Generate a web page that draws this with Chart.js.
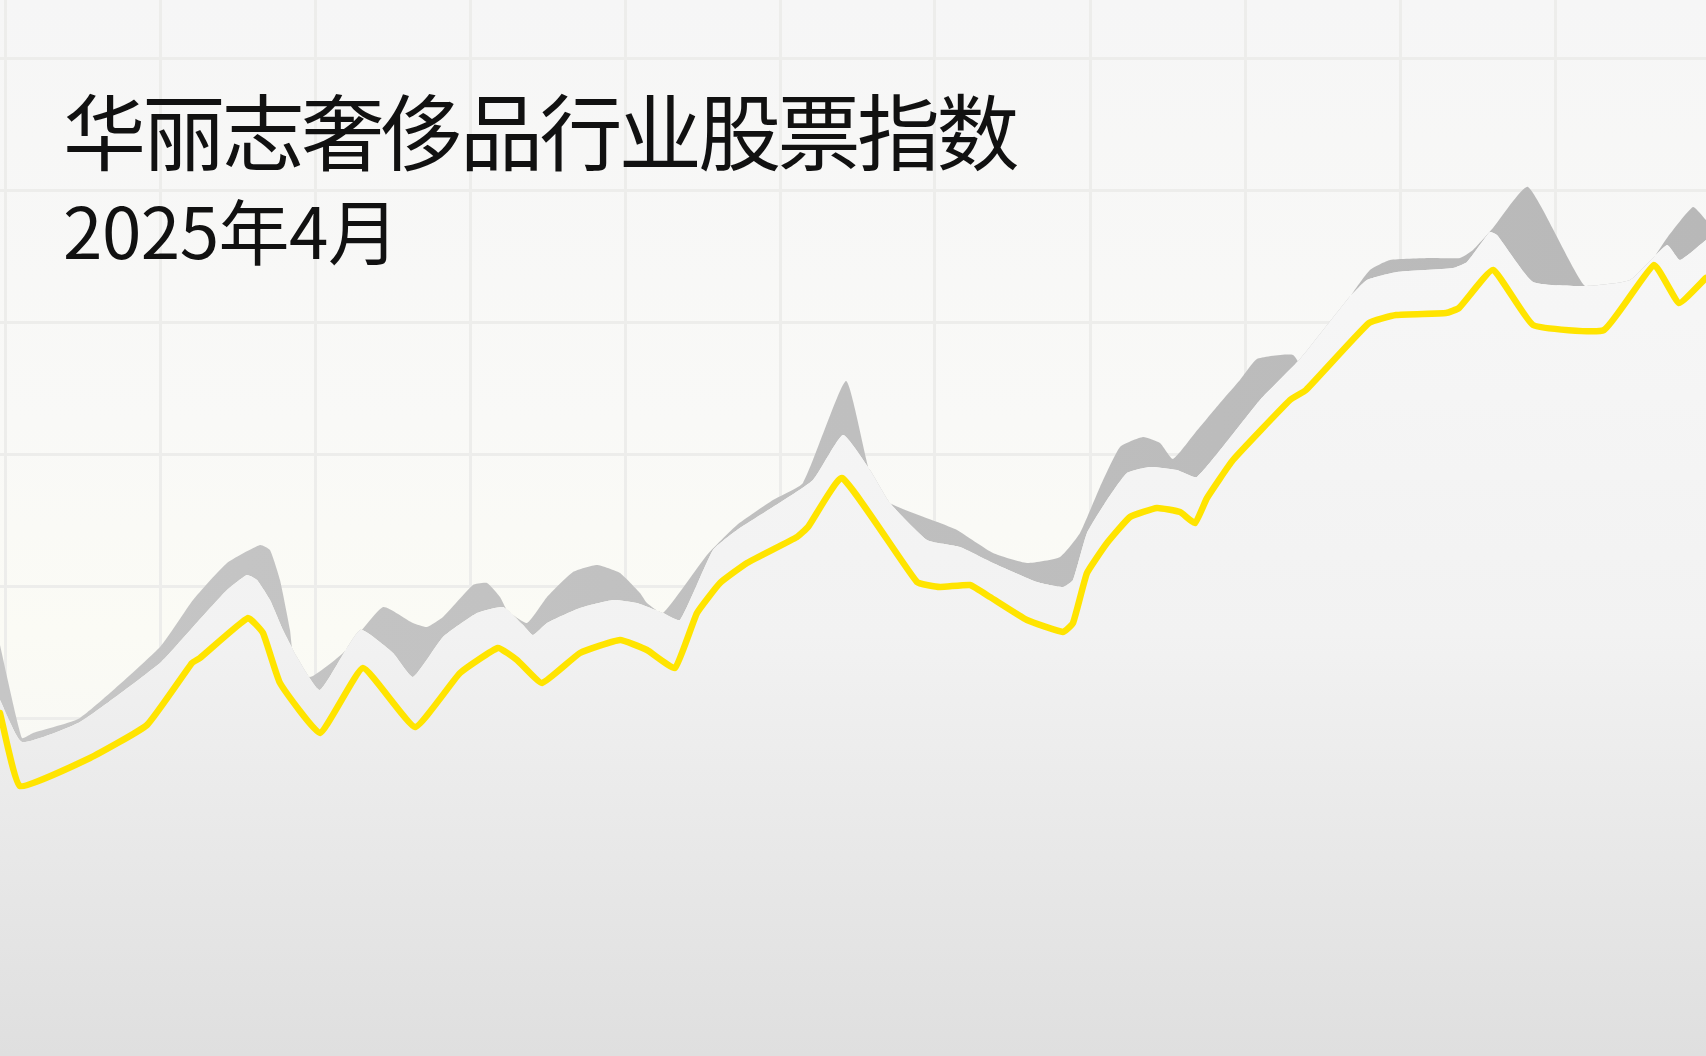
<!DOCTYPE html>
<html>
<head>
<meta charset="utf-8">
<script src="https://cdn.jsdelivr.net/npm/chart.js@4/dist/chart.umd.min.js"></script>
<style>
    html, body {
        margin: 0;
        padding: 0;
        width: 1706px;
        height: 1056px;
        overflow: hidden;
        background: linear-gradient(to bottom, #f6f6f6 0%, #f9f9f7 40%, #fbfbf5 60%, #f3f3f3 100%);
    }
    #wrap { position: relative; width: 1706px; height: 1056px; }
    canvas { position: absolute; left: 0; top: 0; }
    .title {
        position: absolute;
        left: 63px;
        font-family: "Noto Sans CJK SC", "Noto Sans", sans-serif;
        color: #111;
        line-height: 1;
        white-space: nowrap;
    }
    #t1 { top: 87px; font-size: 83px; letter-spacing: -3.6px; }
    #t2 { top: 193px; font-size: 71px; letter-spacing: -0.5px; }
</style>
</head>
<body>
<div id="wrap">
    <canvas id="stock" width="1706" height="1056"></canvas>
    <div class="title" id="t1">华丽志奢侈品行业股票指数</div>
    <div class="title" id="t2">2025年4月</div>
</div>
<script>
// index line (yellow)
const indexX = [0, 20, 90, 147, 192, 200, 248, 263, 280, 320, 363, 415, 460, 498, 517, 542, 580, 620, 647, 675,
    697, 720, 747, 797, 808, 842, 917, 940, 970, 990, 1027, 1063, 1073, 1087, 1107, 1130, 1157, 1180, 1195, 1207,
    1233, 1290, 1306, 1369, 1396, 1446, 1459, 1493, 1533, 1604, 1654, 1679, 1706];
const indexY = [343, 270, 298, 331, 393, 398, 438, 423, 373, 323, 388, 329, 383, 408, 396, 373, 403, 416, 406, 388,
    443, 473, 493, 519, 529, 578, 474, 469, 471, 459, 436, 424, 433, 483, 513, 539, 548, 544, 533, 558,
    596, 656, 666, 733, 741, 743, 748, 786, 731, 726, 791, 753, 778];

// light ribbon top edge
const bandX = [0, 22, 80, 160, 193, 227, 247, 257, 270, 283, 297, 320, 360, 393, 413, 443, 477, 503, 523, 533,
    547, 580, 613, 637, 663, 680, 713, 737, 773, 813, 843, 870, 890, 927, 960, 993, 1037, 1063, 1073, 1087,
    1107, 1127, 1150, 1177, 1197, 1260, 1300, 1347, 1367, 1397, 1453, 1467, 1490, 1497, 1533, 1585, 1630, 1667, 1680, 1706];
const bandY = [356, 314, 334, 393, 429, 466, 481, 476, 456, 426, 399, 366, 426, 403, 379, 419, 443, 449, 431, 421,
    433, 448, 456, 453, 443, 436, 506, 526, 549, 576, 621, 586, 553, 516, 509, 493, 474, 469, 476, 523,
    556, 583, 589, 586, 579, 656, 697, 756, 776, 784, 788, 794, 824, 821, 774, 770, 776, 811, 796, 816];

// grey shadow top edge
const shadowX = [0, 22, 33, 80, 160, 193, 227, 260, 270, 280, 290, 293, 310, 343, 383, 413, 427, 443, 473, 487,
    500, 507, 527, 547, 573, 597, 620, 640, 647, 663, 707, 737, 773, 803, 846, 870, 890, 940, 957, 993,
    1027, 1060, 1080, 1100, 1120, 1143, 1160, 1173, 1195, 1220, 1240, 1257, 1293, 1310, 1340, 1350, 1370, 1390, 1430, 1460,
    1473, 1493, 1528, 1585, 1630, 1667, 1693, 1706];
const shadowY = [411, 318, 323, 338, 409, 456, 493, 511, 506, 476, 426, 403, 379, 403, 449, 433, 429, 439, 471, 473,
    459, 446, 433, 459, 484, 491, 483, 463, 453, 443, 501, 531, 556, 573, 675, 583, 553, 533, 526, 503,
    493, 499, 523, 569, 609, 619, 613, 597, 623, 653, 676, 697, 701, 676, 736, 759, 786, 796, 798, 798,
    806, 828, 869, 770, 766, 818, 849, 836];

function toPoints(xs, ys) {
    return xs.map(function (x, i) { return { x: x, y: ys[i] }; });
}

function bandFill(context) {
    var chart = context.chart;
    var area = chart.chartArea;
    if (!area) return '#f2f2f2';
    var g = chart.ctx.createLinearGradient(0, area.top, 0, area.bottom);
    g.addColorStop(0, '#f8f8f8');
    g.addColorStop(0.3, '#f6f6f6');
    g.addColorStop(0.6, '#f2f2f2');
    g.addColorStop(1, '#dfdfdf');
    return g;
}

function gridTicks(step) {
    return function (axis) {
        var t = [];
        for (var v = 0; v <= axis.max; v += step) t.push({ value: v });
        axis.ticks = t;
    };
}

var ctx = document.getElementById('stock').getContext('2d');
var shadowColor = ctx.createLinearGradient(0, 0, 1706, 0);
shadowColor.addColorStop(0, '#c6c6c6');
shadowColor.addColorStop(1, '#b8b8b8');

var stockChart = new Chart(ctx, {
    type: 'line',
    data: {
        datasets: [{
            label: 'index',
            data: toPoints(indexX, indexY),
            borderColor: '#ffe400',
            borderWidth: 6.5,
            tension: 0.12,
            borderJoinStyle: 'round',
            borderCapStyle: 'round',
            pointRadius: 0,
            fill: false
        }, {
            label: 'shadow',
            data: toPoints(shadowX, shadowY),
            borderWidth: 0,
            borderColor: 'rgba(0,0,0,0)',
            tension: 0.15,
            pointRadius: 0,
            fill: { target: 2, above: shadowColor, below: 'rgba(0,0,0,0)' }
        }, {
            label: 'band',
            data: toPoints(bandX, bandY),
            borderWidth: 0,
            borderColor: 'rgba(0,0,0,0)',
            backgroundColor: bandFill,
            tension: 0.15,
            pointRadius: 0,
            fill: 'start'
        }]
    },
    options: {
        responsive: false,
        animation: false,
        layout: { padding: 0 },
        plugins: {
            legend: { display: false },
            tooltip: { enabled: false },
            title: { display: false }
        },
        scales: {
            x: { type: 'linear', display: false, min: 0, max: 1706 },
            y: { type: 'linear', display: false, min: 0, max: 1056 },
            gx: {
                type: 'linear', position: 'bottom', min: -5, max: 1701,
                border: { display: false },
                ticks: { display: false },
                afterBuildTicks: gridTicks(155),
                grid: { color: '#ededeb', lineWidth: 3, drawTicks: false }
            },
            gy: {
                type: 'linear', position: 'left', reverse: true, min: -58, max: 998,
                border: { display: false },
                ticks: { display: false },
                afterBuildTicks: gridTicks(132),
                grid: { color: '#ededeb', lineWidth: 3, drawTicks: false }
            }
        }
    }
});
</script>
</body>
</html>
